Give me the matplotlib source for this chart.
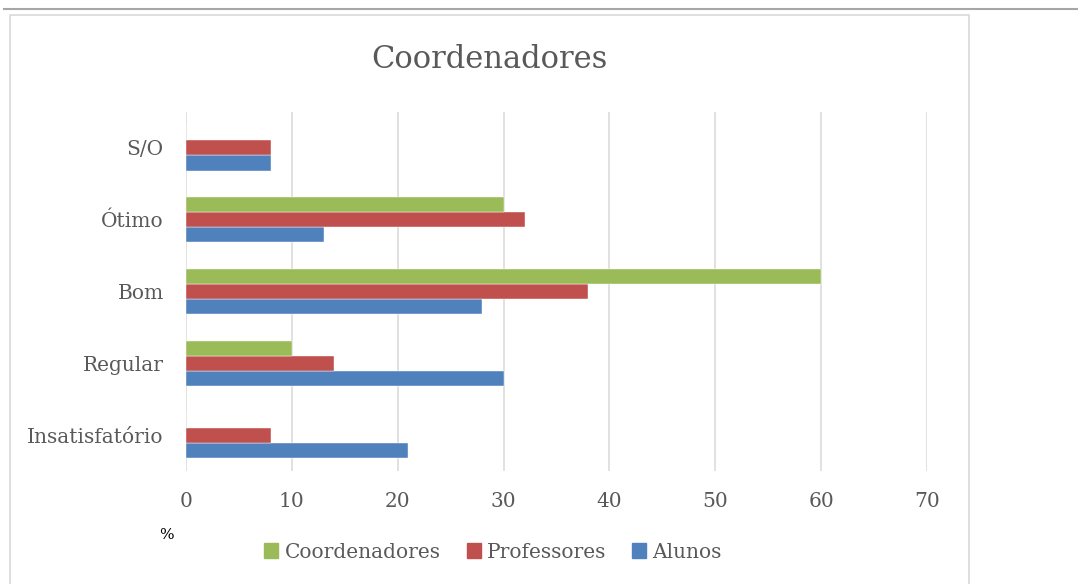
import matplotlib
matplotlib.use("Agg")
import matplotlib.pyplot as plt
import matplotlib.patches as mpatches
from matplotlib.lines import Line2D
import numpy as np

categories = ["Insatisfatório", "Regular", "Bom", "Ótimo", "S/O"]
alunos = [21, 30, 28, 13, 8]
professores = [8, 14, 38, 32, 8]
coordenadores = [0, 10, 60, 30, 0]
series_names = ["Alunos", "Professores", "Coordenadores"]
xticks = [0, 10, 20, 30, 40, 50, 60, 70]
title = "Coordenadores"

colors = {"Alunos": "#4F81BD", "Professores": "#C0504D", "Coordenadores": "#9BBB59"}
text_color = "#595959"
font = ["DejaVu Serif"]

W, H = 1078, 584
fig = plt.figure(figsize=(W / 100, H / 100), dpi=100)
fig.patch.set_facecolor("white")

# decorative top rule and chart border
fig.add_artist(Line2D([4 / W, 1.0], [1 - 9 / H, 1 - 9 / H], color="#A6A6A6", lw=1.5))
fig.add_artist(mpatches.Rectangle((10 / W, -0.01), (969 - 10) / W, 1 - 15 / H + 0.01,
                                  fill=False, edgecolor="#D9D9D9", lw=1.2))

left, right, top, bottom = 186, 927, 112, 471
ax = fig.add_axes([left / W, 1 - bottom / H, (right - left) / W, (bottom - top) / H])

y = np.arange(len(categories))
bh = 0.21
data = {"Alunos": alunos, "Professores": professores, "Coordenadores": coordenadores}
for i, name in enumerate(series_names):
    ax.barh(y + (i - 1) * bh, data[name], height=bh, color=colors[name],
            edgecolor="white", linewidth=0.3, zorder=3, label=name)

ax.set_xlim(0, 70)
ax.set_ylim(-0.5, len(categories) - 0.5)
ax.set_xticks(xticks)
ax.set_yticks(y)
ax.set_yticklabels(categories)
for sp in ax.spines.values():
    sp.set_visible(False)
ax.grid(axis="x", color="#D9D9D9", lw=1.1, zorder=0)
ax.tick_params(length=0, colors=text_color, labelsize=14.5)
ax.tick_params(axis="x", pad=15)
ax.tick_params(axis="y", pad=16)
for lab in ax.get_xticklabels() + ax.get_yticklabels():
    lab.set_family(font)

fig.text(489 / W, 1 - 60 / H, title, ha="center", va="center", fontsize=22,
         color=text_color, family=font)
fig.text(166 / W, 1 - 535 / H, "%", ha="center", va="center", fontsize=11,
         color="black", family=font)

handles = [mpatches.Patch(color=colors[n], label=n) for n in ["Coordenadores", "Professores", "Alunos"]]
leg = fig.legend(handles=handles, loc="center", bbox_to_anchor=(493 / W, 1 - 552 / H),
                 ncol=3, frameon=False, handlelength=0.7, handleheight=0.7,
                 handletextpad=0.3, columnspacing=1.3,
                 prop={"family": font, "size": 14.5})
for t in leg.get_texts():
    t.set_color(text_color)

fig.savefig("out.png", dpi=100)
